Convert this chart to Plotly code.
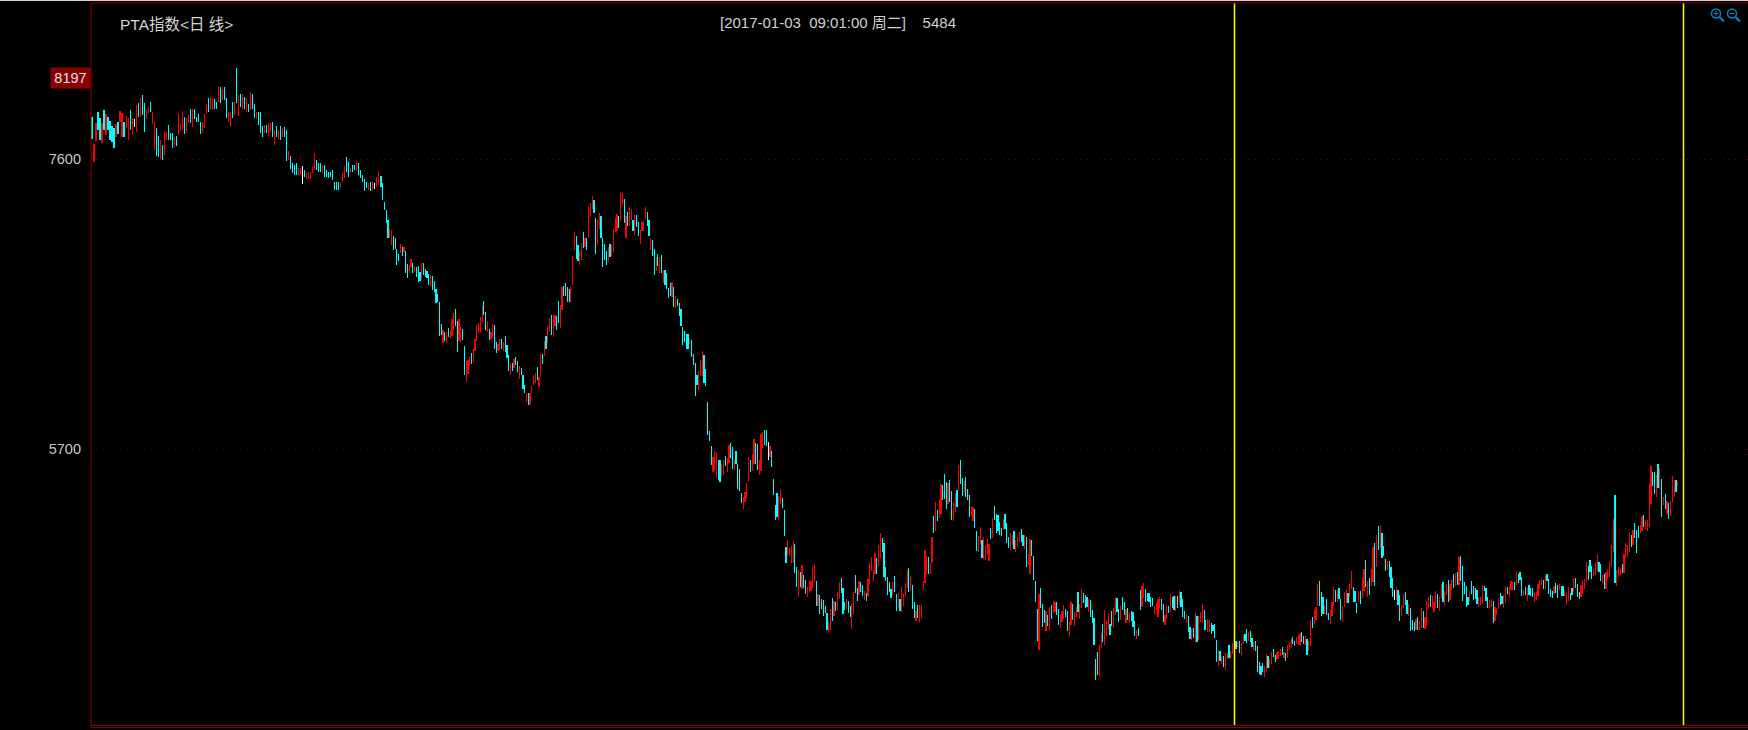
import plotly.graph_objects as go
import numpy as np

# Daily bars: (high, low, colour) r=up, c=down, w=flat
bars_a = [(7873,7731,"c"),(7698,7582,"r"),(7833,7720,"r"),(7907,7790,"c"),(7866,7724,"c"),(7833,7707,"r"),(7921,7790,"c"),(7892,7757,"r"),(7877,7790,"c"),(7851,7724,"c"),
(7816,7713,"c"),(7801,7670,"c"),(7827,7746,"r"),(7840,7761,"c"),(7914,7844,"r"),(7903,7746,"r"),(7844,7746,"c"),(7881,7801,"r"),(7866,7724,"r"),(7921,7790,"c"),
(7866,7757,"r"),(7862,7807,"w"),(7951,7779,"r"),(7964,7873,"c"),(7997,7877,"r"),(8019,7888,"c"),(7964,7779,"c"),(7921,7864,"r"),(7938,7899,"r"),(7975,7910,"c"),
(7910,7829,"r"),(7844,7659,"r"),(7801,7619,"c"),(7750,7615,"c"),(7724,7598,"r"),(7691,7593,"c"),(7783,7626,"r"),(7779,7724,"r"),(7820,7724,"c"),(7768,7724,"c"),
(7768,7670,"c"),(7746,7680,"r"),(7750,7685,"c"),(7894,7759,"r"),(7829,7785,"r"),(7912,7790,"r"),(7877,7763,"c"),(7866,7768,"r"),(7888,7838,"r"),(7925,7833,"c"),
(7931,7811,"r"),(7931,7859,"c"),(7873,7844,"c"),(7894,7844,"c"),(7844,7763,"c"),(7844,7772,"r"),(7892,7801,"r"),(7958,7903,"r"),(7997,7910,"c"),(8004,7931,"r"),
(7997,7921,"r"),(7993,7925,"c"),(7975,7927,"c"),(8078,7975,"r"),(8069,7964,"c"),(8056,7986,"r"),(8069,7986,"c"),(7997,7866,"c"),(7910,7840,"r"),(7905,7811,"r"),
(7971,7866,"c"),(7975,7888,"r"),(8197,7964,"c"),(8019,7883,"r"),(8023,7942,"c"),(8023,7931,"r"),(8004,7925,"c"),(7997,7910,"r"),(7960,7910,"c"),(8036,7921,"r"),
(8025,7931,"c"),(7958,7866,"c"),(7910,7859,"r"),(7907,7822,"c"),(7907,7768,"c"),(7818,7746,"c"),(7822,7768,"r"),(7822,7768,"c"),(7833,7750,"r"),(7833,7779,"r"),
(7842,7746,"c"),(7790,7691,"r"),(7816,7746,"c"),(7790,7724,"r"),(7816,7724,"c"),(7801,7746,"r"),(7811,7746,"c"),(7790,7589,"c"),(7652,7593,"r"),(7619,7532,"c"),
(7571,7506,"c"),(7560,7495,"c"),(7571,7495,"c"),(7539,7495,"r"),(7539,7495,"r"),(7556,7436,"w"),(7528,7484,"c"),(7510,7467,"r"),(7512,7467,"r"),(7517,7467,"r"),
(7545,7506,"r"),(7637,7528,"r"),(7593,7528,"c"),(7571,7517,"c"),(7571,7517,"c"),(7560,7506,"r"),(7560,7484,"c"),(7528,7484,"c"),(7517,7473,"c"),(7512,7484,"c"),
(7528,7462,"c"),(7451,7397,"c"),(7451,7397,"c"),(7451,7397,"c"),(7445,7408,"r"),(7506,7440,"r"),(7554,7473,"r"),(7611,7517,"c"),(7578,7484,"c"),(7539,7510,"r"),
(7560,7517,"c"),(7560,7528,"c"),(7584,7523,"r"),(7571,7495,"c"),(7528,7473,"c"),(7495,7451,"c"),(7467,7392,"c"),(7451,7408,"c"),(7445,7397,"r"),(7451,7392,"c"),
(7451,7392,"r"),(7445,7401,"w"),(7484,7418,"r"),(7521,7429,"r")]

bars_b = [(7488,7418,"c"),(7440,7331,"c"),(7318,7266,"c"),(7266,7183,"c"),(7200,7082,"c"),(7141,7082,"r"),(7135,7036,"r"),(7095,7004,"c"),(7082,7008,"c"),(7008,6905,"c"),
(6977,6934,"c"),(7043,6982,"r"),(7021,6964,"c"),(7021,6993,"r"),(6997,6851,"c"),(6912,6820,"c"),(6905,6855,"r"),(6945,6894,"r"),(6916,6855,"c"),(6899,6862,"r"),
(6894,6829,"c"),(6899,6796,"c"),(6862,6803,"c"),(6916,6814,"r"),(6916,6840,"c"),(6877,6829,"c"),(6866,6818,"c"),(6844,6774,"c"),(6840,6763,"r"),(6833,6742,"c"),
(6801,6731,"c"),(6752,6654,"c"),(6715,6663,"c"),(6663,6440,"c"),(6519,6447,"c"),(6480,6397,"r"),(6469,6408,"c"),(6467,6397,"r"),(6493,6436,"c"),(6473,6429,"r"),
(6552,6443,"r"),(6589,6480,"r"),(6617,6506,"c"),(6539,6338,"c"),(6552,6408,"r"),(6497,6403,"r"),(6486,6414,"c"),(6375,6185,"c"),(6277,6141,"r"),(6283,6191,"r"),
(6301,6246,"r"),(6327,6257,"c"),(6353,6270,"r"),(6421,6342,"r"),(6512,6408,"r"),(6528,6462,"r"),(6563,6458,"r"),(6637,6534,"r"),(6670,6578,"c"),(6598,6480,"c"),
(6539,6469,"r"),(6486,6414,"c"),(6469,6421,"r"),(6517,6429,"r"),(6512,6355,"c"),(6401,6331,"c"),(6388,6344,"r"),(6419,6349,"r"),(6419,6357,"c"),(6403,6344,"r"),
(6440,6338,"c"),(6381,6296,"c"),(6316,6213,"c"),(6261,6185,"r"),(6266,6213,"c"),(6288,6229,"r"),(6305,6250,"c"),(6277,6205,"c"),(6246,6161,"r"),(6231,6185,"c"),
(6185,6093,"c"),(6119,6065,"c"),(6065,6008,"r"),(6065,5989,"c"),(6065,5989,"r"),(6113,6065,"r"),(6185,6119,"r"),(6196,6135,"r"),(6240,6152,"c"),(6174,6109,"r"),
(6322,6174,"r"),(6322,6257,"c"),(6408,6312,"r"),(6440,6355,"c"),(6506,6397,"r"),(6560,6475,"r"),(6578,6447,"c"),(6578,6436,"r"),(6578,6508,"r"),(6571,6480,"c"),
(6670,6523,"c"),(6643,6495,"r"),(6759,6611,"r"),(6768,6702,"c"),(6785,6704,"c"),(6761,6665,"c"),(6752,6663,"c"),(6761,6665,"r"),(6964,6774,"r"),(7121,7004,"r"),
(7095,6943,"c"),(7036,6932,"c"),(6999,6905,"r"),(7047,6938,"r"),(7121,7015,"c"),(7086,7025,"r"),(7086,7004,"c"),(7287,7080,"r"),(7309,7222,"r"),(7357,7276,"r"),
(7331,7248,"c"),(7217,6977,"c"),(7200,7036,"r"),(7244,7145,"r"),(7226,7084,"c"),(7086,6894,"c"),(7043,6938,"c"),(6997,6905,"c"),(7021,6927,"r"),(7043,6960,"c"),
(7036,6964,"r"),(7139,6993,"r"),(7211,7124,"r"),(7237,7130,"r"),(7226,7150,"c"),(7383,7196,"r"),(7377,7298,"r"),(7335,7178,"c"),(7226,7084,"r"),(7252,7163,"c"),
(7283,7163,"r"),(7270,7200,"r"),(7200,7128,"c"),(7231,7102,"r"),(7231,7152,"c"),(7187,7095,"c"),(7135,7045,"r"),(7187,7130,"r"),(7193,7130,"r"),(7285,7204,"r"),
(7252,7161,"c"),(7200,7095,"c"),(7080,7004,"r"),(7069,6964,"c"),(7010,6840,"c"),(6960,6866,"r"),(6977,6899,"c"),(6960,6855,"r"),(6971,6851,"c"),(6870,6785,"r"),
(6873,6772,"c"),(6851,6746,"c"),(6755,6687,"c"),(6790,6702,"c"),(6794,6698,"r"),(6761,6630,"c"),(6702,6624,"r"),(6683,6637,"c"),(6654,6571,"c"),(6617,6506,"c"),
(6499,6381,"c"),(6471,6401,"c"),(6453,6355,"c"),(6453,6355,"c"),(6427,6388,"r"),(6414,6305,"c"),(6322,6253,"c"),(6261,6047,"c"),(6185,6119,"c"),(6213,6087,"r"),
(6283,6178,"r"),(6342,6178,"r"),(6316,6135,"c"),(6224,6113,"c")]

bars_c = [(6008,5792,"c"),(5816,5753,"c"),(5720,5595,"c"),(5650,5549,"r"),(5687,5558,"r"),(5683,5508,"r"),(5628,5497,"c"),(5628,5484,"c"),(5602,5515,"r"),(5628,5530,"r"),
(5654,5589,"c"),(5643,5549,"r"),(5726,5606,"r"),(5739,5639,"c"),(5715,5569,"c"),(5628,5563,"r"),(5687,5602,"c"),(5602,5438,"c"),(5569,5425,"c"),(5412,5346,"c"),
(5388,5307,"r"),(5416,5355,"r"),(5477,5373,"r"),(5648,5491,"r"),(5628,5552,"c"),(5667,5558,"r"),(5766,5602,"r"),(5739,5602,"c"),(5733,5563,"c"),(5628,5530,"r"),
(5801,5558,"r"),(5811,5707,"r"),(5824,5726,"c"),(5824,5720,"c"),(5746,5628,"w"),(5720,5650,"r"),(5687,5582,"c"),(5504,5399,"c"),(5333,5235,"c"),(5412,5255,"c"),
(5392,5235,"r"),(5438,5340,"r"),(5379,5314,"c"),(5301,5130,"c"),(5058,4953,"c"),(5104,5006,"r"),(5052,5000,"r"),(5065,4953,"r"),(5098,4953,"r"),(5078,4888,"c"),
(4927,4796,"c"),(4908,4731,"r"),(4895,4796,"c"),(4940,4783,"r"),(4875,4790,"c"),(4842,4750,"c"),(4796,4731,"r"),(4842,4757,"r"),(4836,4770,"r"),(4927,4790,"r"),
(4940,4829,"r"),(4836,4672,"c"),(4750,4672,"r"),(4744,4620,"c"),(4718,4652,"c"),(4711,4606,"c"),(4672,4626,"c"),(4626,4515,"c"),(4567,4495,"r"),(4652,4508,"r"),
(4724,4574,"c"),(4705,4606,"r"),(4698,4639,"c"),(4764,4646,"r"),(4829,4718,"r"),(4855,4757,"c"),(4790,4620,"c"),(4698,4646,"c"),(4718,4652,"r"),(4705,4626,"c"),
(4672,4600,"c"),(4685,4521,"r"),(4764,4620,"r"),(4875,4757,"c"),(4790,4705,"c"),(4836,4744,"r"),(4829,4764,"c"),(4809,4737,"c"),(4770,4711,"r"),(4757,4705,"c"),
(4849,4737,"r"),(4953,4816,"r"),(4993,4901,"r"),(4908,4836,"r"),(5019,4881,"r"),(4986,4881,"c"),(5071,4934,"r"),(5150,4986,"r"),(5117,5026,"c"),(5084,4862,"c"),
(4927,4836,"c"),(4862,4744,"c"),(4829,4764,"c"),(4783,4724,"c"),(4829,4744,"r"),(4868,4764,"c"),(4750,4639,"c"),(4757,4659,"r"),(4718,4639,"c"),(4796,4633,"r"),
(4750,4672,"r"),(4823,4731,"r"),(4908,4790,"r"),(4921,4764,"c"),(4868,4770,"r"),(4809,4652,"c"),(4698,4593,"c"),(4639,4574,"r"),(4678,4593,"c"),(4678,4567,"r"),
(4678,4593,"r"),(4836,4777,"r"),(5039,4823,"r"),(5000,4881,"r"),(4993,4881,"c"),(4953,4881,"r"),(5124,4953,"r"),(5261,5150,"c"),(5353,5163,"r"),(5301,5229,"c"),
(5373,5248,"r"),(5471,5274,"r"),(5464,5366,"c"),(5536,5373,"c"),(5484,5307,"c"),(5477,5340,"r"),(5497,5353,"c"),(5425,5235,"c"),(5353,5229,"r"),(5412,5287,"r"),
(5432,5320,"c"),(5595,5432,"r"),(5628,5471,"c"),(5508,5392,"c"),(5491,5419,"r"),(5517,5386,"c"),(5438,5366,"c"),(5399,5255,"c"),(5327,5261,"r"),(5320,5229,"r"),
(5307,5183,"c"),(5163,5032,"c"),(5130,5026,"r"),(5189,5078,"r"),(5104,4986,"c"),(5124,4980,"r"),(5065,4973,"r"),(5111,5006,"r"),(5078,4967,"r"),(5183,5111,"c"),
(5248,5117,"r"),(5327,5235,"c"),(5275,5150,"c"),(5268,5163,"c"),(5222,5137,"c"),(5183,5130,"c"),(5242,5170,"r"),(5275,5176,"c"),(5215,5084,"c"),(5124,5052,"c"),
(5150,5039,"r"),(5137,5071,"r"),(5163,5045,"c"),(5104,5026,"r"),(5124,5058,"r"),(5157,5091,"r"),(5176,5091,"c"),(5137,5065,"c"),(5137,5045,"r"),(5124,4927,"c"),
(5013,4940,"r"),(5111,4881,"r"),(5104,5000,"c"),(5000,4842,"c"),(4836,4698,"c"),(4652,4443,"c"),(4750,4384,"r"),(4790,4659,"c"),(4685,4534,"c"),(4646,4561,"c"),
(4639,4508,"r"),(4613,4541,"c"),(4665,4515,"r")]

bars_d = [(4679,4587,"c"),(4705,4629,"r"),(4699,4633,"r"),(4699,4613,"c"),(4653,4548,"c"),(4613,4528,"r"),(4640,4568,"r"),(4679,4587,"r"),(4653,4600,"c"),(4640,4509,"c"),
(4568,4476,"r"),(4699,4548,"r"),(4685,4581,"c"),(4633,4541,"r"),(4666,4600,"r"),(4764,4633,"c"),(4685,4587,"r"),(4784,4659,"r"),(4758,4692,"c"),(4744,4659,"c"),
(4731,4666,"c"),(4718,4633,"r"),(4712,4600,"c"),(4646,4561,"c"),(4594,4417,"c"),(4325,4188,"c"),(4371,4220,"c"),(4417,4214,"r"),(4496,4397,"r"),(4554,4437,"c"),
(4646,4417,"r"),(4574,4476,"r"),(4626,4522,"r"),(4554,4482,"c"),(4640,4541,"c"),(4659,4528,"r"),(4731,4613,"r"),(4725,4633,"c"),(4653,4568,"c"),(4672,4581,"r"),
(4731,4646,"c"),(4699,4613,"c"),(4653,4561,"r"),(4659,4581,"c"),(4633,4561,"r"),(4640,4574,"c"),(4633,4535,"c"),(4574,4476,"c"),(4515,4456,"r"),(4528,4476,"c"),
(4777,4646,"c"),(4803,4666,"r"),(4823,4725,"r"),(4784,4699,"c"),(4758,4705,"c"),(4758,4699,"c"),(4731,4666,"c"),(4725,4672,"c"),(4672,4613,"r"),(4692,4646,"r"),
(4718,4600,"r"),(4731,4659,"r"),(4718,4646,"c"),(4685,4568,"c"),(4613,4548,"r"),(4679,4587,"r"),(4672,4627,"c"),(4751,4633,"r"),(4731,4659,"c"),(4738,4646,"c"),
(4738,4640,"r"),(4738,4659,"c"),(4777,4679,"r"),(4764,4666,"c"),(4718,4600,"c"),(4640,4587,"c"),(4620,4561,"r"),(4607,4502,"c"),(4535,4456,"c"),(4522,4450,"r"),
(4528,4463,"c"),(4626,4430,"r"),(4607,4437,"c"),(4607,4450,"r"),(4633,4568,"r"),(4685,4561,"r"),(4646,4515,"c"),(4581,4515,"c"),(4587,4502,"r"),(4581,4502,"r"),
(4561,4489,"c"),(4548,4509,"c"),(4554,4463,"c"),(4450,4306,"c"),(4384,4279,"r"),(4378,4312,"c"),(4345,4292,"r"),(4345,4273,"c"),(4365,4253,"r"),(4365,4325,"r"),
(4417,4332,"c"),(4378,4325,"r"),(4430,4358,"r"),(4450,4397,"r"),(4443,4391,"c"),(4437,4404,"r"),(4443,4365,"c"),(4430,4351,"r"),(4482,4423,"r"),(4489,4443,"c"),
(4522,4430,"c"),(4502,4443,"r"),(4509,4437,"c"),(4463,4404,"c"),(4437,4384,"r"),(4443,4378,"c"),(4410,4240,"c"),(4306,4227,"c"),(4279,4220,"c"),(4299,4240,"c"),
(4279,4207,"r"),(4358,4247,"r"),(4345,4266,"c"),(4325,4266,"r"),(4371,4292,"r"),(4391,4338,"c"),(4351,4306,"c"),(4371,4325,"r"),(4378,4325,"r"),(4391,4345,"r"),
(4404,4351,"c"),(4371,4332,"r"),(4365,4312,"c"),(4417,4332,"r"),(4437,4384,"r"),(4456,4397,"r"),(4469,4423,"c"),(4443,4410,"c"),(4469,4423,"r"),(4482,4417,"r"),
(4496,4417,"r"),(4502,4437,"c"),(4476,4423,"c"),(4476,4417,"r"),(4456,4351,"c"),(4443,4378,"r"),(4581,4410,"r"),(4600,4528,"c"),(4646,4554,"r"),(4666,4581,"r"),
(4816,4672,"r"),(4836,4672,"c"),(4764,4607,"c"),(4731,4620,"c"),(4679,4620,"r"),(4718,4613,"c"),(4626,4581,"c"),(4646,4554,"r"),(4699,4607,"r"),(4797,4672,"r"),
(4777,4699,"c"),(4777,4699,"r"),(4790,4718,"c"),(4718,4581,"c"),(4672,4568,"r"),(4764,4666,"r"),(4777,4692,"r"),(4758,4692,"c"),(4816,4731,"r"),(4902,4784,"r")]

bars_e = [(4797,4699,"c"),(4771,4699,"c"),(4692,4626,"c"),(4771,4699,"r"),(4771,4685,"c"),(4862,4725,"r"),(4915,4771,"r"),(4974,4797,"c"),(4836,4731,"r"),(4856,4744,"c"),
(4915,4803,"r"),(5059,4830,"r"),(5085,4803,"c"),(5137,4930,"r"),(5196,5039,"c"),(5203,5050,"r"),(5150,4987,"c"),(5065,5000,"c"),(4980,4902,"c"),(4967,4908,"r"),
(4967,4862,"c"),(4928,4790,"c"),(4856,4731,"c"),(4777,4712,"w"),(4797,4712,"r"),(4777,4679,"c"),(4744,4574,"c"),(4679,4607,"r"),(4751,4659,"r"),(4764,4679,"c"),
(4712,4620,"c"),(4685,4607,"r"),(4659,4509,"c"),(4581,4515,"c"),(4568,4509,"c"),(4587,4515,"r"),(4600,4515,"c"),(4574,4515,"r"),(4659,4528,"r"),(4640,4528,"c"),
(4600,4522,"r"),(4705,4541,"r"),(4731,4653,"r"),(4744,4666,"c"),(4738,4659,"r"),(4699,4633,"r"),(4771,4659,"r"),(4751,4659,"c"),(4731,4640,"r"),(4816,4718,"r"),
(4830,4699,"c"),(4771,4679,"r"),(4816,4744,"r"),(4843,4699,"c"),(4816,4712,"r"),(4849,4771,"r"),(4882,4790,"c"),(4889,4803,"r"),(4895,4810,"c"),(4993,4810,"r"),
(4999,4836,"c"),(4934,4705,"c"),(4830,4751,"c"),(4803,4666,"c"),(4731,4679,"c"),(4771,4705,"r"),(4836,4751,"c"),(4803,4712,"c"),(4790,4718,"c"),(4777,4685,"c"),
(4731,4666,"r"),(4731,4679,"r"),(4810,4685,"r"),(4803,4770,"c"),(4790,4705,"c"),(4731,4659,"c"),(4712,4653,"r"),(4718,4666,"r"),(4705,4561,"c"),(4666,4574,"r"),
(4659,4613,"r"),(4725,4653,"r"),(4758,4679,"c"),(4738,4685,"c"),(4744,4659,"r"),(4803,4692,"r"),(4797,4751,"c"),(4803,4731,"r"),(4836,4777,"r"),(4830,4777,"r"),
(4830,4777,"c"),(4902,4810,"r"),(4882,4823,"c"),(4895,4843,"c"),(4862,4738,"c"),(4777,4738,"r"),(4797,4744,"c"),(4790,4705,"r"),(4810,4744,"c"),(4790,4738,"c"),
(4790,4731,"c"),(4764,4699,"r"),(4764,4712,"r"),(4816,4738,"r"),(4843,4784,"r"),(4849,4810,"r"),(4843,4784,"c"),(4875,4784,"r"),(4882,4836,"c"),(4849,4751,"c"),
(4784,4731,"c"),(4771,4725,"c"),(4803,4751,"r"),(4823,4758,"c"),(4810,4725,"c"),(4816,4777,"r"),(4803,4738,"c"),(4803,4738,"c"),(4777,4738,"r"),(4758,4679,"r"),
(4797,4705,"r"),(4758,4712,"c"),(4790,4744,"c"),(4856,4764,"r"),(4856,4790,"c"),(4816,4731,"c"),(4764,4718,"c"),(4810,4731,"r"),(4843,4751,"r"),(4849,4784,"r"),
(4960,4830,"r"),(4934,4843,"c"),(4974,4895,"c"),(4934,4849,"c"),(4915,4869,"r"),(4954,4875,"r"),(5013,4902,"r"),(4960,4895,"c"),(4947,4836,"c"),(4875,4823,"r"),
(4882,4784,"c"),(4895,4784,"r"),(4915,4849,"r"),(4960,4862,"r"),(5072,4928,"r"),(5242,5026,"r"),(5399,4823,"c"),(4908,4803,"r"),(4928,4862,"r"),(4921,4875,"r"),
(4947,4888,"c"),(5013,4888,"r"),(5085,4987,"r"),(5072,4993,"r"),(5150,5026,"r"),(5137,5059,"c"),(5170,5072,"r"),(5216,5118,"c"),(5170,5019,"c"),(5196,5118,"c"),
(5203,5150,"r"),(5262,5163,"r"),(5268,5190,"c"),(5236,5177,"r"),(5236,5163,"r"),(5478,5190,"r"),(5589,5340,"r"),(5550,5458,"c"),(5550,5406,"c"),(5530,5386,"r"),
(5602,5445,"c"),(5576,5439,"r"),(5504,5255,"c"),(5388,5334,"r"),(5406,5308,"c"),(5360,5275,"r"),(5347,5242,"c"),(5360,5262,"r"),(5524,5353,"r"),(5498,5386,"r"),
(5498,5419,"c"),(5491,5458,"r")]

# Bar number at which each stretch of readings begins, and where the last one ends
section_start = [0, 160.5, 342, 533, 700.7, 882]
sections = [bars_a, bars_b, bars_c, bars_d, bars_e]

tick_values = [7600, 5700]
tick_labels = ["7600", "5700"]
peak_value = 8197
cursor_bars = [634.72, 884.17]
title_text = "PTA指数&lt;日 线&gt;"
info_text = "[2017-01-03\u00a0\u00a009:01:00 周二]\u00a0\u00a0\u00a0\u00a05484"

xs, high, low, col = [], [], [], []
colour = {"c": "#00FFFF", "r": "#FF0000", "w": "#FFFFFF"}
for i, sec in enumerate(sections):
    pos = np.linspace(section_start[i], section_start[i + 1], len(sec), endpoint=False)
    for p, (h, l, c) in zip(pos, sec):
        xs.append(float(p)); high.append(h); low.append(l); col.append(colour[c])
span = [h - l for h, l in zip(high, low)]

W, H = 1748, 730
L, T, B = 91, 3, 5
def fx(px): return (px - L) / (W - L)
def fy(py): return 1 - (py - T) / (H - T - B)

fig = go.Figure(go.Bar(x=xs, y=span, base=low, width=0.12,
                       marker=dict(color=col, line=dict(width=0)), hoverinfo="skip"))

shapes = []
for b in cursor_bars:
    shapes.append(dict(type="line", xref="x", yref="paper", x0=b, x1=b, y0=0, y1=1,
                       line=dict(color="#FFFF00", width=1.5)))
frame = "#8B0000"
shapes += [
    dict(type="line", xref="paper", yref="paper", x0=0, x1=0, y0=fy(727), y1=1, line=dict(color=frame, width=1)),
    dict(type="line", xref="paper", yref="paper", x0=0, x1=1, y0=1, y1=1, line=dict(color=frame, width=1)),
    dict(type="line", xref="paper", yref="paper", x0=0, x1=1, y0=fy(725.5), y1=fy(725.5), line=dict(color=frame, width=1)),
    dict(type="line", xref="paper", yref="paper", x0=0, x1=1, y0=fy(727.5), y1=fy(727.5), line=dict(color=frame, width=1)),
    dict(type="line", xref="paper", yref="paper", x0=fx(0), x1=1, y0=fy(0.5), y1=fy(0.5), line=dict(color="#D0D0D0", width=1)),
]
icon = "#0B7FC4"
for cx, plus in [(1716, True), (1732, False)]:
    shapes.append(dict(type="circle", xref="paper", yref="paper", x0=fx(cx - 4.5), x1=fx(cx + 4.5),
                       y0=fy(13.5 + 4.5), y1=fy(13.5 - 4.5), line=dict(color=icon, width=1.5)))
    shapes.append(dict(type="line", xref="paper", yref="paper", x0=fx(cx + 3.5), x1=fx(cx + 8),
                       y0=fy(17), y1=fy(21.5), line=dict(color=icon, width=2.2)))
    shapes.append(dict(type="line", xref="paper", yref="paper", x0=fx(cx - 2.5), x1=fx(cx + 2.5),
                       y0=fy(13.5), y1=fy(13.5), line=dict(color=icon, width=1)))
    if plus:
        shapes.append(dict(type="line", xref="paper", yref="paper", x0=fx(cx), x1=fx(cx),
                           y0=fy(11), y1=fy(16), line=dict(color=icon, width=1)))

txt = "#D2D2D2"
annotations = [
    dict(xref="paper", yref="paper", x=fx(118), y=fy(24), xanchor="left", yanchor="middle",
         text=title_text, showarrow=False,
         font=dict(family="Liberation Sans, Noto Sans CJK SC", size=15.5, color=txt)),
    dict(xref="paper", yref="paper", x=fx(718), y=fy(23), xanchor="left", yanchor="middle",
         text=info_text, showarrow=False,
         font=dict(family="Liberation Sans, Noto Sans CJK SC", size=15, color=txt)),
    dict(xref="paper", yref="y", x=0, y=peak_value, xanchor="right", yanchor="top", yshift=1,
         text=str(peak_value), showarrow=False, bgcolor="#8B0000", width=39, height=20,
         borderpad=0, align="center",
         font=dict(family="Liberation Sans", size=14.5, color="#E0E0E0")),
]

fig.update_layout(
    width=W, height=H, margin=dict(l=L, r=0, t=T, b=B),
    paper_bgcolor="#000000", plot_bgcolor="#000000", showlegend=False,
    bargap=0, shapes=shapes, annotations=annotations,
    xaxis=dict(range=[(91 - 92) / 1.8, (1748 - 92) / 1.8], visible=False, fixedrange=True),
    yaxis=dict(range=[3893, 8622], tickmode="array", tickvals=tick_values, ticktext=tick_labels,
               showgrid=True, gridcolor="#7A0000", griddash="1px,5px", gridwidth=1,
               zeroline=False, showline=False, ticks="", ticklabelstandoff=9,
               tickfont=dict(family="Liberation Sans", size=14.5, color="#C8C8C8"), fixedrange=True),
)
fig.write_html("out.html", config={"displayModeBar": False},
               post_script="document.body.style.margin='0';document.body.style.background='#000';")
